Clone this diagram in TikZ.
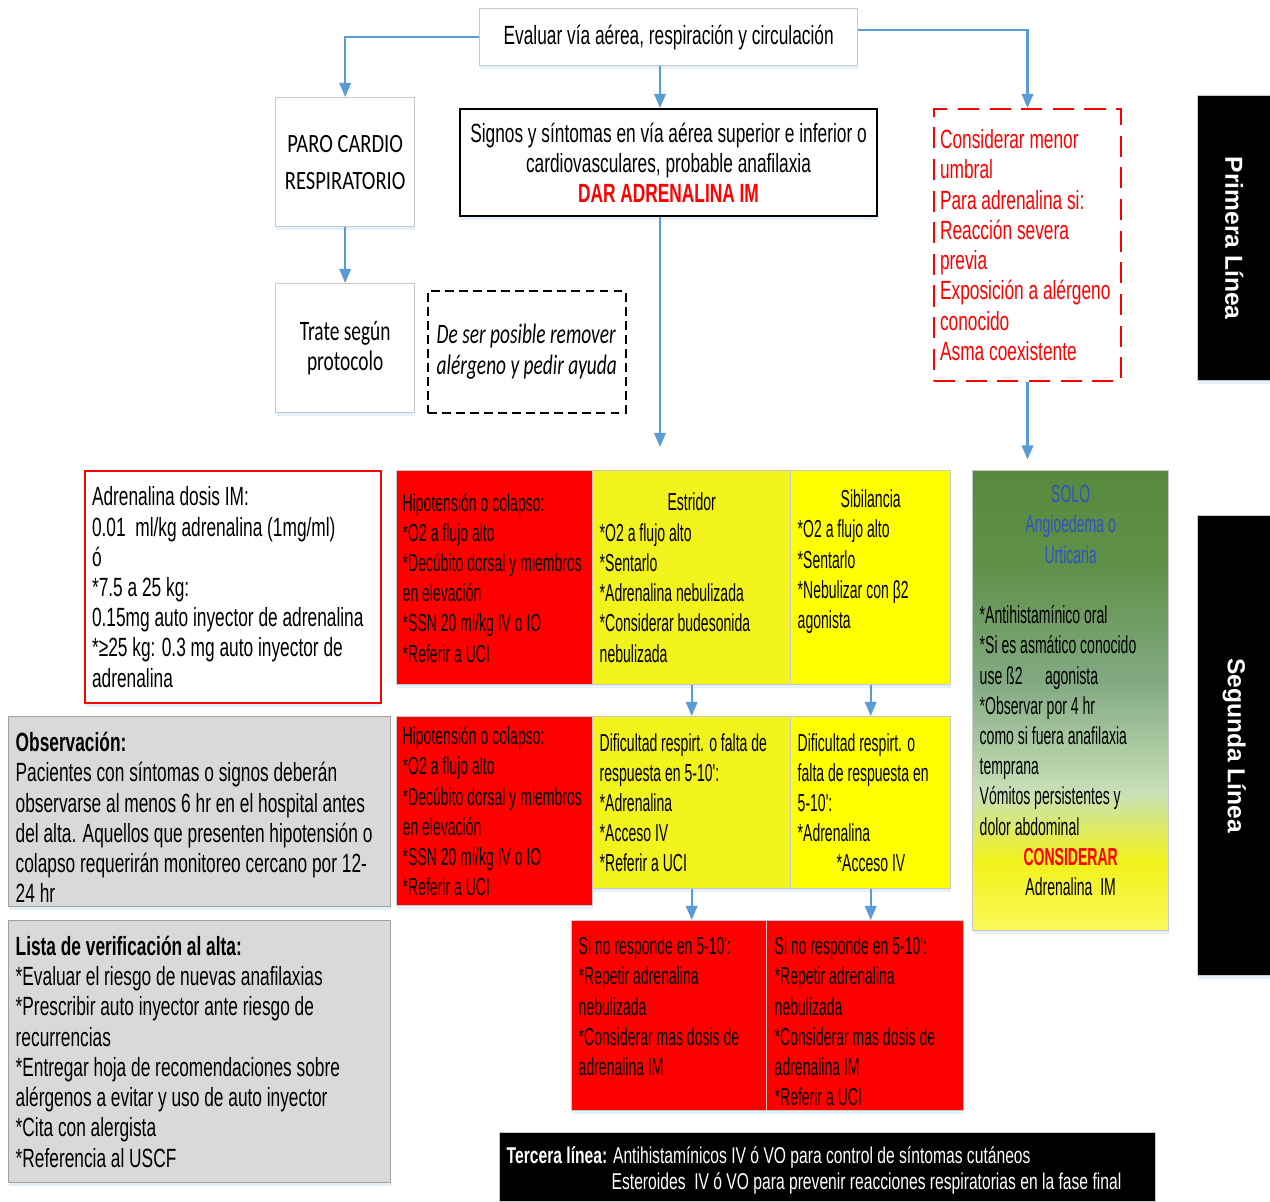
\documentclass[tikz,border=0pt]{standalone}
\usepackage{fontspec}
\setmainfont{Liberation Sans}[FakeStretch=0.657]
\newfontfamily\angosta{Liberation Sans}[FakeStretch=0.57]
\newfontfamily\ancha{Liberation Sans}
\newfontfamily\calibri{Carlito}[FakeStretch=0.78]
\newfontfamily\calibrichica{Carlito}[FakeStretch=0.69]
\newfontfamily\fuentetercera{Liberation Sans}[FakeStretch=0.685]
\usetikzlibrary{arrows.meta, shadows}

\definecolor{azulflecha}{HTML}{5B9BD5}
\definecolor{grisborde}{HTML}{C8C8C8}
\definecolor{grisrelleno}{HTML}{D9D9D9}
\definecolor{amarillo}{HTML}{F2F21C}
\definecolor{amarillob}{HTML}{FFFF00}
\definecolor{rojo}{HTML}{FF0000}
\definecolor{azulsolo}{HTML}{2F52C4}
\definecolor{verdeosc}{HTML}{578A3C}
\definecolor{verdealto}{HTML}{5F9048}
\definecolor{verdemed}{HTML}{82AA82}
\definecolor{verdeclaro}{HTML}{C8E0B8}
\definecolor{amarilloclaro}{HTML}{FAF85A}

%	degradado de la caja verde
\pgfdeclareverticalshading{angio}{100bp}{color(0bp)=(amarilloclaro); color(25bp)=(amarilloclaro); color(32.5bp)=(amarillo); color(40bp)=(verdeclaro); color(52bp)=(verdemed); color(65bp)=(verdealto); color(75bp)=(verdeosc); color(100bp)=(verdeosc)}

\newcommand{\letra}{\fontsize{15}{17.2}\selectfont}
\newcommand{\letran}{\angosta\fontsize{14}{17.2}\selectfont}

\tikzset{
	sombra/.style = {drop shadow = {shadow xshift = 0pt, shadow yshift = -2pt, fill = azulflecha!25, opacity = 0.6}},
	caja/.style = {draw = grisborde, line width = 0.8pt, anchor = north west, inner sep = 0pt, font = \letra, sombra},
	rojocaja/.style = {caja, fill = rojo, font = \letran, align = flush left},
	amarcaja/.style = {caja, fill = amarillo, font = \letran, align = flush left},
	amarcajab/.style = {caja, fill = amarillob, font = \letran, align = flush left},
	griscaja/.style = {caja, draw = grisborde!80!black, fill = grisrelleno, align = flush left},
	negracaja/.style = {caja, fill = black, text = white},
	arriba/.style 2 args = {text height = #1, text depth = #2},
	flecha/.style = {draw = azulflecha, line width = 1.2pt, -{Triangle[width = 6.5pt, length = 8pt]}}
}

\begin{document}
\begin{tikzpicture}[x = 0.02cm, y = -0.02cm]
	\useasboundingbox (0, 0) rectangle (1270, 1201);
	
	%	primera fila
	\node[caja, fill = white, minimum width = 7.56cm, minimum height = 1.14cm] (evaluar) at (479, 8) {Evaluar vía aérea, respiración y circulación};
	\node[caja, fill = white, minimum width = 2.78cm, minimum height = 2.58cm, align = center, font = \calibri\fontsize{15}{21}\selectfont] (paro) at (275, 97) {PARO CARDIO\\RESPIRATORIO};
	\node[caja, fill = white, minimum width = 2.78cm, minimum height = 2.58cm, align = center, font = \calibrichica\fontsize{16}{17.6}\selectfont] (trate) at (275, 283) {Trate según\\protocolo};
	\node[anchor = north west, inner sep = 0pt, draw = black, line width = 0.9pt, dash pattern = on 5pt off 3pt, minimum width = 3.96cm, minimum height = 2.44cm, align = left, font = \calibrichica\itshape\fontsize{16}{17.6}\selectfont] (remover) at (427, 290) {De ser posible remover\\alérgeno y pedir ayuda};
	\node[caja, draw = black, line width = 1.2pt, fill = white, minimum width = 8.34cm, minimum height = 2.14cm, align = center] (signos) at (459, 108) {Signos y síntomas en vía aérea superior e inferior o\\cardiovasculares, probable anafilaxia\\{\color{rojo}\bfseries DAR ADRENALINA IM}};
	\node[anchor = north west, inner sep = 0pt, draw = rojo, line width = 1.2pt, dash pattern = on 12pt off 6pt, minimum width = 3.74cm, minimum height = 5.44cm, text width = 3.5cm, align = flush left, text = rojo, font = \letra] (considerar) at (933, 108) {Considerar menor\\umbral\\Para adrenalina si:\\Reacción severa\\previa\\Exposición a alérgeno\\conocido\\Asma coexistente};
	
	%	lineas
	\node[negracaja, rotate = -90, anchor = south west, minimum width = 5.7cm, minimum height = 1.46cm, font = \ancha\bfseries\fontsize{14}{16}\selectfont] (primera) at (1197, 95) {Primera Línea};
	\node[negracaja, rotate = -90, anchor = south west, minimum width = 9.2cm, minimum height = 1.46cm, font = \ancha\bfseries\fontsize{14}{16}\selectfont] (segunda) at (1197, 515) {Segunda Línea};
	
	%	segunda fila
	\node[caja, draw = rojo, line width = 1.2pt, fill = white, minimum width = 5.92cm, minimum height = 4.64cm, text width = 5.64cm, align = flush left] (dosis) at (84, 470) {Adrenalina dosis IM:\\0.01\ \ ml/kg adrenalina (1mg/ml)\\ó\\{*}7.5 a 25 kg:\\0.15mg auto inyector de adrenalina\\{*}≥25 kg: 0.3 mg auto inyector de\\adrenalina};
	\node[rojocaja, minimum width = 3.92cm, minimum height = 4.28cm, text width = 3.68cm] (hipo) at (396, 470) {Hipotensión o colapso:\\{*}O2 a flujo alto\\{*}Decúbito dorsal y miembros\\en elevación\\{*}SSN 20 ml/kg IV o IO\\{*}Referir a UCI};
	\node[amarcaja, minimum width = 3.96cm, minimum height = 4.28cm, text width = 3.68cm] (estridor) at (592, 470) {\makebox[\linewidth]{Estridor}\\{*}O2 a flujo alto\\{*}Sentarlo\\{*}Adrenalina nebulizada\\{*}Considerar budesonida\\nebulizada};
	\node[amarcajab, minimum width = 3.2cm, minimum height = 4.28cm, text width = 2.92cm, arriba = {0.74cm}{3.54cm}] (sibilancia) at (790, 470) {\makebox[\linewidth]{Sibilancia}\\{*}O2 a flujo alto\\{*}Sentarlo\\{*}Nebulizar con β2\\agonista};
	\node[caja, shading = angio, minimum width = 3.92cm, minimum height = 9.2cm, text width = 3.64cm, align = flush left, font = \letran, arriba = {0.64cm}{8.56cm}] (angio) at (972, 470) {\makebox[\linewidth]{\color{azulsolo}SOLO}\\\makebox[\linewidth]{\color{azulsolo}Angioedema o}\\\makebox[\linewidth]{\color{azulsolo}Urticaria}\\[17.2pt]{*}Antihistamínico oral\\{*}Si es asmático conocido\\use ß2\hspace{0.45cm}agonista\\{*}Observar por 4 hr\\como si fuera anafilaxia\\temprana\\Vómitos persistentes y\\dolor abdominal\\\makebox[\linewidth]{\color{rojo}\bfseries CONSIDERAR}\\\makebox[\linewidth]{Adrenalina\ \ IM}};
	
	%	tercera fila
	\node[griscaja, minimum width = 7.64cm, minimum height = 3.8cm, text width = 7.36cm, arriba = {0.70cm}{3.10cm}] (observacion) at (8, 716) {\textbf{Observación:}\\Pacientes con síntomas o signos deberán\\observarse al menos 6 hr en el hospital antes\\del alta. Aquellos que presenten hipotensión o\\colapso requerirán monitoreo cercano por 12-\\24 hr};
	\node[rojocaja, minimum width = 3.92cm, minimum height = 3.78cm, text width = 3.68cm] (hipob) at (396, 716) {Hipotensión o colapso:\\{*}O2 a flujo alto\\{*}Decúbito dorsal y miembros\\en elevación\\{*}SSN 20 ml/kg IV o IO\\{*}Referir a UCI};
	\node[amarcaja, minimum width = 3.96cm, minimum height = 3.44cm, text width = 3.68cm] (dificultad) at (592, 716) {Dificultad respirt. o falta de\\respuesta en 5-10':\\{*}Adrenalina\\{*}Acceso IV\\{*}Referir a UCI};
	\node[amarcajab, minimum width = 3.2cm, minimum height = 3.44cm, text width = 2.92cm] (dificultadb) at (790, 716) {Dificultad respirt. o\\falta de respuesta en\\5-10':\\{*}Adrenalina\\\hspace*{0.78cm}*Acceso IV};
	
	%	cuarta fila
	\node[griscaja, minimum width = 7.64cm, minimum height = 5.24cm, text width = 7.36cm] (lista) at (8, 920) {\textbf{Lista de verificación al alta:}\\{*}Evaluar el riesgo de nuevas anafilaxias\\{*}Prescribir auto inyector ante riesgo de\\recurrencias\\{*}Entregar hoja de recomendaciones sobre\\alérgenos a evitar y uso de auto inyector\\{*}Cita con alergista\\{*}Referencia al USCF};
	\node[rojocaja, minimum width = 3.9cm, minimum height = 3.8cm, text width = 3.62cm, arriba = {0.68cm}{3.12cm}] (noresp) at (571, 920) {Si no responde en 5-10':\\{*}Repetir adrenalina\\nebulizada\\{*}Considerar mas dosis de\\adrenalina IM};
	\node[rojocaja, minimum width = 3.94cm, minimum height = 3.8cm, text width = 3.62cm, arriba = {0.68cm}{3.12cm}] (norespb) at (766, 920) {Si no responde en 5-10':\\{*}Repetir adrenalina\\nebulizada\\{*}Considerar mas dosis de\\adrenalina IM\\{*}Referir a UCI};
	\node[negracaja, minimum width = 13.12cm, minimum height = 1.38cm, text width = 12.84cm, align = flush left, arriba = {0.62cm}{0.76cm}, font = \fuentetercera\fontsize{13}{14.7}\selectfont] (tercera) at (499, 1132) {\textbf{Tercera línea:} Antihistamínicos IV ó VO para control de síntomas cutáneos\\\hspace*{2.1cm}Esteroides\ \ IV ó VO para prevenir reacciones respiratorias en la fase final};
	
	%	flechas
	\coordinate (bajada) at (660, 447);
	\draw[flecha] (evaluar.west) -| (paro.north);
	\draw[flecha] (paro) -- (trate);
	\draw[flecha] (evaluar.south -| bajada) -- (signos.north -| bajada);
	\draw[flecha] (signos.south -| bajada) -- (bajada);
	\draw[flecha] ([yshift = 0.15cm]evaluar.east) -| (considerar.north);
	\draw[flecha, shorten >= 6pt] (considerar.south) -- (considerar.south |- angio.north);
	\draw[flecha] (estridor) -- (dificultad);
	\draw[flecha] (sibilancia) -- (dificultadb);
	\draw[flecha] (dificultad.south) -- (dificultad.south |- noresp.north);
	\draw[flecha] (dificultadb.south) -- (dificultadb.south |- norespb.north);
\end{tikzpicture}
\end{document}
